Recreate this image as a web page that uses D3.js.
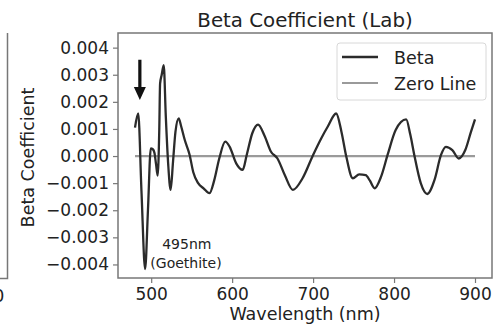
<!DOCTYPE html>
<html>
<head>
<meta charset="utf-8">
<script src="https://cdn.jsdelivr.net/npm/d3@7"></script>
<style>
  body { margin: 0; background: #fff; }
  svg { display: block; font-family: "DejaVu Sans", sans-serif; }
</style>
</head>
<body>
<div id="chart"></div>
<script>
var W = 497, H = 325;

// wavelength (nm) and beta coefficient
var wavelength = [480, 484, 488, 492.5, 496, 499.5, 502, 504, 506, 508, 510, 511, 513, 515.5, 518, 521, 524,
  527, 530, 534, 537, 541.5, 547.5, 552, 558, 565, 572, 578, 584, 591.5, 597, 605, 613, 618, 625, 632,
  640, 648, 656, 665, 675, 687, 700, 710, 718, 728.5, 735, 741, 749, 757, 765, 770, 776, 784, 792,
  802, 815, 820, 825, 833, 841, 850, 858, 864, 872, 880, 888, 895, 900];
var beta = [0.00105, 0.00157, -0.0013, -0.00417, -0.0020, 0.00028, 0.00025, 0.00012, -0.0003, -0.00072,
  0.0010, 0.00267, 0.0030, 0.00335, 0.0015, -0.0003, -0.00125,
  -0.0002, 0.0009, 0.00139, 0.0011, 0.00059, 0.00004, -0.0006, -0.0010, -0.0012, -0.00137, -0.00088,
  -0.0001, 0.00053, 0.00034, -0.00027, -0.00051, 0.00004, 0.00085, 0.00116,
  0.00075, 0.00016, -0.00009, -0.0007, -0.00125, -0.00082, 0.00004, 0.00065, 0.00108, 0.00157, 0.0009,
  -0.00002, -0.00082, -0.00068, -0.0007, -0.0009, -0.00119, -0.00076, 0.00004,
  0.00096, 0.00135, 0.0008, 0.00004, -0.0010, -0.0014, -0.00088, 0.00004, 0.00034, 0.00022, -0.00009,
  0.00022, 0.00089, 0.00135];
var yTicks = [-0.004, -0.003, -0.002, -0.001, 0, 0.001, 0.002, 0.003, 0.004];
var xTicks = [500, 600, 700, 800, 900];
var seriesNames = ["Beta", "Zero Line"];
var seriesColors = ["#2b2b2b", "#9a9a9a"];

var svg = d3.select("#chart").append("svg")
  .attr("width", W)
  .attr("height", H);

var m = {left: 118, right: 492, top: 33, bottom: 278};

var x = d3.scaleLinear().domain([459, 921]).range([m.left, m.right]);
var y = d3.scaleLinear().domain([-0.0045, 0.00454]).range([m.bottom, m.top]);

// leftover edge of the neighbouring panel
svg.append("path")
  .attr("d", "M0," + (m.bottom + 0.5) + "H7.5V" + m.top)
  .attr("fill", "none")
  .attr("stroke", "#777")
  .attr("stroke-width", 1.5);
svg.append("text")
  .attr("x", -12).attr("y", 302)
  .attr("text-anchor", "middle")
  .attr("font-size", "17px")
  .attr("fill", "#222")
  .text("900");

// zero line
svg.append("line")
  .attr("x1", x(480)).attr("x2", x(900))
  .attr("y1", y(0)).attr("y2", y(0))
  .attr("stroke", seriesColors[1])
  .attr("stroke-width", 2.2);

// beta curve
var pts = wavelength.map(function(d, i) { return [d, beta[i]]; });
var line = d3.line()
  .x(function(d) { return x(d[0]); })
  .y(function(d) { return y(d[1]); })
  .curve(d3.curveMonotoneX);

svg.append("path")
  .datum(pts)
  .attr("d", line)
  .attr("fill", "none")
  .attr("stroke", seriesColors[0])
  .attr("stroke-width", 2.3)
  .attr("stroke-linejoin", "round");

// axes
var xAxis = svg.append("g")
  .attr("transform", "translate(0," + m.bottom + ")")
  .call(d3.axisBottom(x).tickValues(xTicks).tickSize(5).tickPadding(5).tickFormat(d3.format("d")));
var yAxis = svg.append("g")
  .attr("transform", "translate(" + m.left + ",0)")
  .call(d3.axisLeft(y).tickValues(yTicks).tickSize(5).tickPadding(4).tickFormat(d3.format(".3f")));

[xAxis, yAxis].forEach(function(g) {
  g.select(".domain").remove();
  g.selectAll(".tick line").attr("stroke", "#777").attr("stroke-width", 1.2);
  g.selectAll(".tick text")
    .attr("font-family", "DejaVu Sans, sans-serif")
    .attr("font-size", "17px")
    .attr("fill", "#222");
});

// frame
svg.append("rect")
  .attr("x", m.left).attr("y", m.top)
  .attr("width", m.right - m.left).attr("height", m.bottom - m.top)
  .attr("fill", "none")
  .attr("stroke", "#777")
  .attr("stroke-width", 1.5);

// title + labels
svg.append("text")
  .attr("x", (m.left + m.right) / 2).attr("y", 27)
  .attr("text-anchor", "middle")
  .attr("font-size", "19.8px")
  .attr("fill", "#222")
  .text("Beta Coefficient (Lab)");

svg.append("text")
  .attr("x", (m.left + m.right) / 2).attr("y", 320)
  .attr("text-anchor", "middle")
  .attr("font-size", "17.5px")
  .attr("fill", "#222")
  .text("Wavelength (nm)");

svg.append("text")
  .attr("transform", "translate(34," + ((m.top + m.bottom) / 2 + 2) + ") rotate(-90)")
  .attr("text-anchor", "middle")
  .attr("font-size", "17.5px")
  .attr("fill", "#222")
  .text("Beta Coefficient");

// arrow at the 495nm feature
var ax = x(486), aTop = y(0.00355), aTip = y(0.00207);
svg.append("path")
  .attr("d", "M" + (ax - 1.6) + "," + aTop + "V" + (aTip - 13) + "H" + (ax - 6) +
    "L" + ax + "," + aTip + "L" + (ax + 6) + "," + (aTip - 13) + "H" + (ax + 1.6) + "V" + aTop + "Z")
  .attr("fill", "#111");

svg.append("text")
  .attr("x", x(544)).attr("y", y(-0.00343))
  .attr("text-anchor", "middle")
  .attr("font-size", "14px")
  .attr("fill", "#222")
  .text("495nm");
svg.append("text")
  .attr("x", x(543)).attr("y", y(-0.00413))
  .attr("text-anchor", "middle")
  .attr("font-size", "14px")
  .attr("fill", "#222")
  .text("(Goethite)");

// legend
var leg = svg.append("g").attr("transform", "translate(337,43)");
leg.append("rect")
  .attr("width", 149).attr("height", 57).attr("rx", 3)
  .attr("fill", "#fff").attr("fill-opacity", 0.8)
  .attr("stroke", "#d8d8d8");
seriesNames.forEach(function(name, i) {
  var ly = 14 + i * 26;
  leg.append("line")
    .attr("x1", 5).attr("x2", 41)
    .attr("y1", ly).attr("y2", ly)
    .attr("stroke", seriesColors[i])
    .attr("stroke-width", i == 0 ? 2.3 : 2);
  leg.append("text")
    .attr("x", 57).attr("y", ly + 7)
    .attr("font-size", "17.5px")
    .attr("fill", "#222")
    .text(name);
});
</script>
</body>
</html>
